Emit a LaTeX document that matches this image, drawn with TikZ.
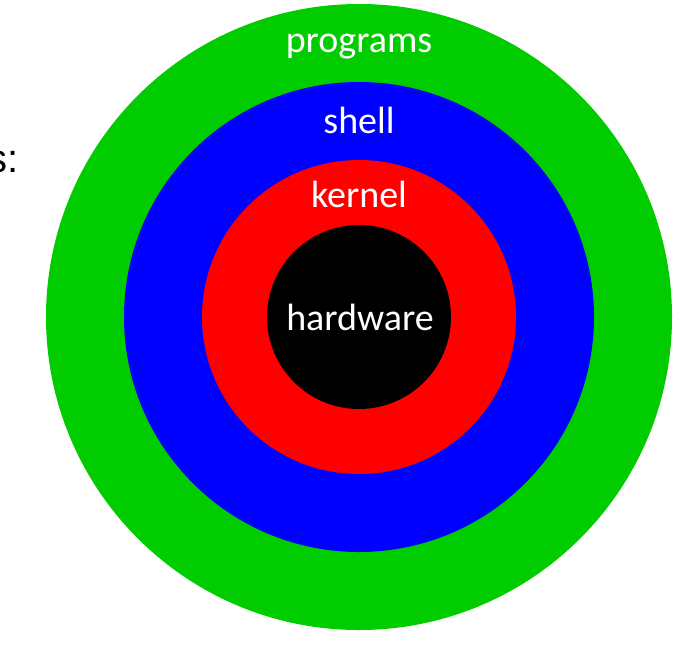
\documentclass[tikz,border=0pt]{standalone}
\usepackage{fontspec}
\setmainfont{Carlito}
\newfontfamily\arialfont{Liberation Sans}
\definecolor{ringgreen}{HTML}{00CC00}
\definecolor{ringblue}{HTML}{0000FF}
\definecolor{ringred}{HTML}{FF0000}
\begin{document}
\begin{tikzpicture}[x=1pt,y=-1pt,
  ring/.style={circle,inner sep=0pt,outer sep=0pt,draw=none},
  lbl/.style={text=white,font=\fontsize{38}{42}\selectfont,inner sep=0pt,anchor=base}]
\useasboundingbox (0,0) rectangle (687,659);
\fill[white] (0,0) rectangle (687,659);
\node[ring,fill=ringgreen,minimum size=626pt] (programs) at (359,317) {};
\node[ring,fill=ringblue,minimum size=470pt] (shell) at (359,317) {};
\node[ring,fill=ringred,minimum size=314pt] (kernel) at (359,317) {};
\node[ring,fill=black,minimum size=184pt] (hardware) at (359,317) {};
\node[lbl] (tprog) at (359,52) {programs};
\node[lbl] (tshell) at (359,133) {shell};
\node[lbl] (tkern) at (359,207) {kernel};
\node[lbl] (thw) at (360,330) {hardware};
\node[font=\arialfont\fontsize{40}{44}\selectfont,inner sep=0pt,anchor=base east] (tcut) at (19,172) {s:};
\end{tikzpicture}
\end{document}
